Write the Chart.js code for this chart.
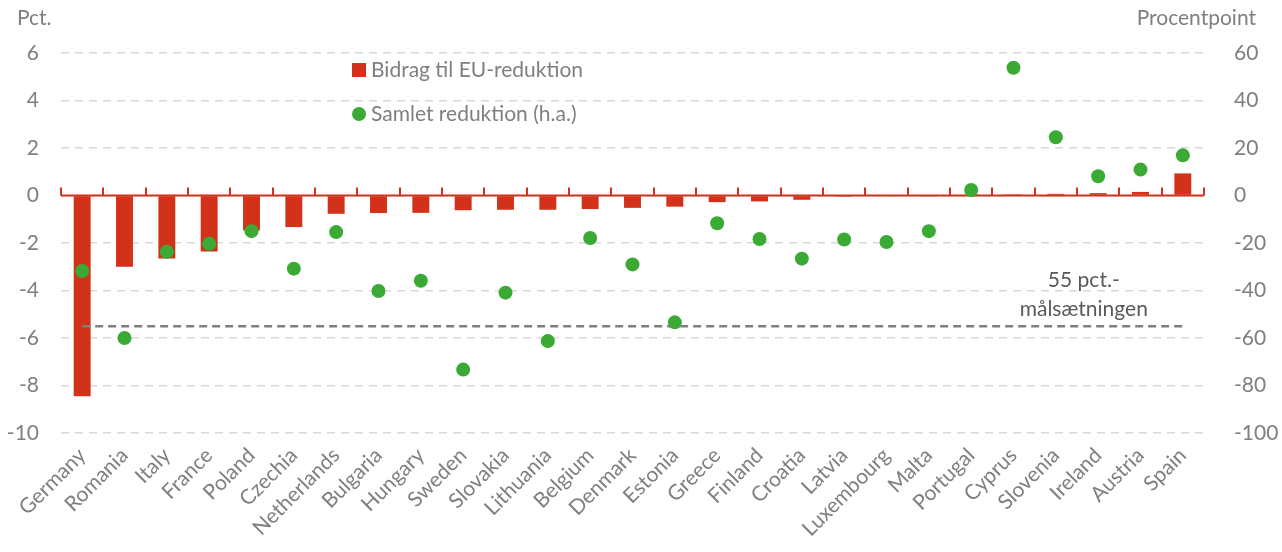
<!DOCTYPE html>
<html>
<head>
<meta charset="utf-8">
<script src="https://cdn.jsdelivr.net/npm/chart.js@4/dist/chart.umd.min.js"></script>
<style>
  html, body { margin: 0; padding: 0; background: #fff; }
  #wrap { width: 1282px; height: 552px; position: relative; }
</style>
</head>
<body>
<div id="wrap"><canvas id="chart"></canvas></div>
<script>
var countries = ['Germany', 'Romania', 'Italy', 'France', 'Poland', 'Czechia', 'Netherlands', 'Bulgaria',
  'Hungary', 'Sweden', 'Slovakia', 'Lithuania', 'Belgium', 'Denmark', 'Estonia', 'Greece', 'Finland',
  'Croatia', 'Latvia', 'Luxembourg', 'Malta', 'Portugal', 'Cyprus', 'Slovenia', 'Ireland', 'Austria', 'Spain'];

// Bidrag til EU-reduktion (pct., venstre akse)
var contribution = [-8.45, -3.0, -2.65, -2.36, -1.47, -1.33, -0.77, -0.74,
  -0.73, -0.62, -0.6, -0.6, -0.57, -0.52, -0.47, -0.28, -0.25,
  -0.18, -0.05, -0.03, -0.01, 0.01, 0.05, 0.07, 0.1, 0.15, 0.93];

// Samlet reduktion (procentpoint, hoejre akse)
var totalReduction = [-31.8, -60, -23.7, -20.3, -15, -30.8, -15.4, -40.2,
  -35.9, -73.3, -40.9, -61.3, -17.9, -29, -53.4, -11.7, -18.3,
  -26.6, -18.5, -19.6, -15, 2.3, 53.8, 24.5, 8.1, 10.9, 16.9];

var targetLevel = -5.5;
var targetLabel = ['55 pct.-', 'målsætningen'];
var leftAxis = { min: -10, max: 6, step: 2, title: 'Pct.' };
var rightAxis = { min: -100, max: 60, step: 20, title: 'Procentpoint' };
var seriesNames = ['Bidrag til EU-reduktion', 'Samlet reduktion (h.a.)'];

var RED = '#d13219';
var GREEN = '#3aaa35';
var GREY = '#7f7f7f';
var FONT = 'Lato, "Open Sans", sans-serif';
var FSIZE = 21;

var targetLine = countries.map(function () { return targetLevel; });

// zero line with small upward ticks between categories
var zeroAxis = {
  id: 'zeroAxis',
  beforeDatasetsDraw: function (chart) {
    var ctx = chart.ctx, x = chart.scales.x, y = chart.scales.y;
    var y0 = y.getPixelForValue(0);
    ctx.save();
    ctx.strokeStyle = RED;
    ctx.lineWidth = 2;
    ctx.beginPath();
    ctx.moveTo(chart.chartArea.left, y0);
    ctx.lineTo(chart.chartArea.right, y0);
    for (var i = 0; i <= countries.length; i++) {
      var px = Math.round(x.getPixelForValue(i - 0.5));
      ctx.moveTo(px, y0);
      ctx.lineTo(px, y0 - 8);
    }
    ctx.stroke();
    ctx.restore();
  }
};

var extras = {
  id: 'extras',
  afterDraw: function (chart) {
    var ctx = chart.ctx, area = chart.chartArea, x = chart.scales.x, y = chart.scales.y;
    ctx.save();
    ctx.font = FSIZE + 'px ' + FONT;
    ctx.fillStyle = GREY;
    ctx.textBaseline = 'middle';
    // axis titles
    ctx.textAlign = 'left';
    ctx.fillText(leftAxis.title, 17, 18);
    ctx.textAlign = 'right';
    ctx.fillText(rightAxis.title, 1256, 18);

    // legend
    var lx = area.left + 291, ly = area.top + 17;
    ctx.textAlign = 'left';
    ctx.fillStyle = RED;
    ctx.fillRect(lx, ly - 7, 14, 14);
    ctx.fillStyle = GREY;
    ctx.fillText(seriesNames[0], lx + 19, ly);
    ctx.fillStyle = GREEN;
    ctx.beginPath();
    ctx.arc(lx + 7, ly + 44, 7, 0, Math.PI * 2);
    ctx.fill();
    ctx.fillStyle = GREY;
    ctx.fillText(seriesNames[1], lx + 19, ly + 44);

    // target annotation
    ctx.fillStyle = '#595959';
    ctx.textAlign = 'center';
    var tx = x.getPixelForValue(23.66);
    ctx.fillText(targetLabel[0], tx, y.getPixelForValue(targetLevel) - 46);
    ctx.fillText(targetLabel[1], tx, y.getPixelForValue(targetLevel) - 17);
    ctx.restore();
  }
};

new Chart(document.getElementById('chart'), {
  data: {
    labels: countries,
    datasets: [
      {
        type: 'line',
        label: 'target',
        data: targetLine,
        yAxisID: 'y',
        borderColor: GREY,
        borderWidth: 2.5,
        borderDash: [8, 5],
        pointRadius: 0,
        fill: false,
        order: 2
      },
      {
        type: 'line',
        label: seriesNames[1],
        data: totalReduction,
        yAxisID: 'y1',
        showLine: false,
        pointRadius: 7,
        pointBackgroundColor: GREEN,
        pointBorderWidth: 0,
        borderColor: GREEN,
        order: 1
      },
      {
        type: 'bar',
        label: seriesNames[0],
        data: contribution,
        yAxisID: 'y',
        backgroundColor: RED,
        barPercentage: 0.8,
        categoryPercentage: 0.5,
        order: 3
      }
    ]
  },
  options: {
    responsive: true,
    maintainAspectRatio: false,
    animation: false,
    devicePixelRatio: 1,
    layout: { padding: { top: 53, left: 0, right: 0, bottom: 0 } },
    plugins: {
      legend: { display: false },
      tooltip: { enabled: false }
    },
    scales: {
      x: {
        type: 'category',
        offset: true,
        grid: { display: false },
        border: { display: false },
        afterFit: function (s) { s.height = 119; },
        ticks: {
          color: GREY,
          font: { family: FONT, size: FSIZE },
          minRotation: 45,
          maxRotation: 45,
          autoSkip: false,
          padding: 2
        }
      },
      y: {
        position: 'left',
        min: leftAxis.min,
        max: leftAxis.max,
        afterFit: function (s) { s.width = 61; },
        grid: { color: '#d9d9d9', lineWidth: 1.5, drawTicks: false },
        border: { display: false, dash: [8, 6] },
        ticks: {
          stepSize: leftAxis.step,
          color: GREY,
          font: { family: FONT, size: FSIZE },
          padding: 22
        }
      },
      y1: {
        position: 'right',
        min: rightAxis.min,
        max: rightAxis.max,
        afterFit: function (s) { s.width = 78; },
        grid: { display: false },
        border: { display: false },
        ticks: {
          stepSize: rightAxis.step,
          color: GREY,
          font: { family: FONT, size: FSIZE },
          padding: 22
        }
      }
    }
  },
  plugins: [zeroAxis, extras]
});
</script>
</body>
</html>
